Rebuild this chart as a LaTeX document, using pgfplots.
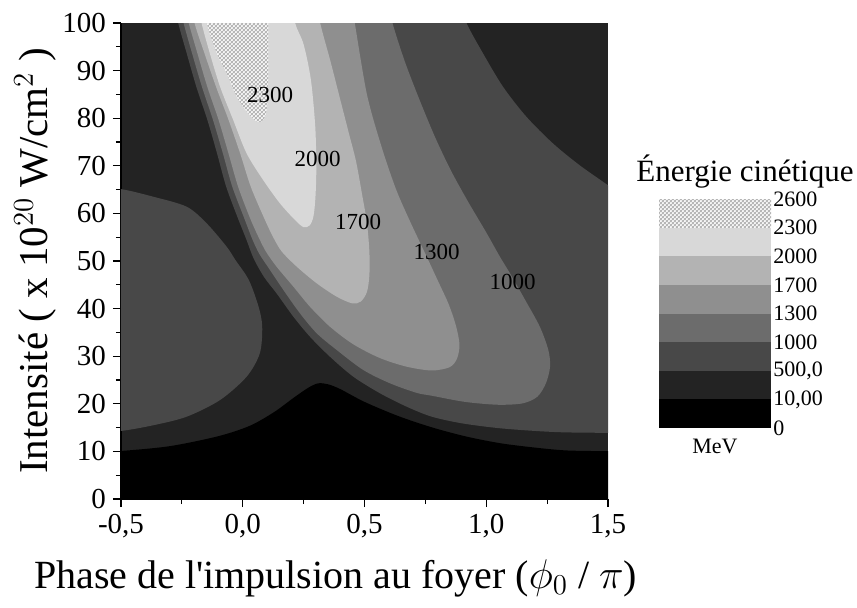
\documentclass[border=0pt]{standalone}
\usepackage{fontspec}
\setmainfont{Liberation Serif}
\usepackage{pgfplots}
\pgfplotsset{compat=1.18}
\usetikzlibrary{patterns.meta}

\definecolor{c0}{RGB}{0,0,0}
\definecolor{c1}{RGB}{35,35,35}
\definecolor{c2}{RGB}{72,72,72}
\definecolor{c3}{RGB}{108,108,108}
\definecolor{c4}{RGB}{143,143,143}
\definecolor{c5}{RGB}{179,179,179}
\definecolor{c6}{RGB}{216,216,216}
\definecolor{hatchgray}{RGB}{180,180,180}

\tikzdeclarepattern{
  name=xhatch, type=uncolored,
  bounding box={(0,0) and (2.2pt,2.2pt)},
  tile size={(2.2pt,2.2pt)},
  code={
    \draw[line width=0.45pt] (0,0) -- (2.2pt,2.2pt);
    \draw[line width=0.45pt] (0,2.2pt) -- (2.2pt,0);
  }
}

\begin{document}
\begin{tikzpicture}
\begin{axis}[
    name=main,
    width=243.5pt, height=238pt, scale only axis,
    xmin=-0.5, xmax=1.5, ymin=0, ymax=100,
    axis background/.style={fill=c1},
    axis x line*=bottom, axis y line*=left,
    axis line style={-, line width=0.6pt},
    tick align=outside,
    major tick length=4pt, minor tick length=2.5pt,
    tick style={line width=0.6pt, black},
    xtick={-0.5,0,0.5,1,1.5},
    xticklabels={{-0,5},{0,0},{0,5},{1,0},{1,5}},
    minor xtick={-0.25,0.25,0.75,1.25},
    ytick={0,10,...,100},
    minor ytick={5,15,...,95},
    /pgf/number format/assume math mode=true,
    ticklabel style={font=\fontsize{14.5}{16}\selectfont},
    xlabel={Phase de l\textquotesingle impulsion au foyer ($\phi_0$ / $\pi$)},
    ylabel={Intensité ( x 10$^{20}$ W/cm$^2$ )},
    xlabel style={font=\fontsize{20}{22}\selectfont, xshift=-14.5pt, yshift=-4pt},
    ylabel style={font=\fontsize{20.5}{22}\selectfont},
    ylabel shift=-4pt,
    every axis plot/.append style={smooth, tension=0.5, draw=none},
]
% 0 - 10 MeV
\addplot[fill=c0] coordinates {
  (-0.6,10.05) (-0.5,10.1) (-0.3,11.1) (-0.1,13.2) (0.03,15.4) (0.13,18.3)
  (0.21,21.3) (0.27,23.4) (0.31,24.3) (0.35,24.1) (0.40,23.1) (0.50,20.4)
  (0.64,17.4) (0.78,15.0) (0.92,13.1) (1.06,11.7) (1.2,10.8) (1.33,10.2)
  (1.5,10.05) (1.6,10.05) (1.6,-5) (-0.6,-5)
} -- cycle;
% 500 - 1000 MeV, left lobe
\addplot[fill=c2] coordinates {
  (-0.6,65.2) (-0.5,65.1) (-0.367,63.5) (-0.23,61.4) (-0.148,57.9) (-0.066,53.0)
  (-0.03,50.2) (0.025,46.0) (0.065,40.4) (0.08,36.2) (0.07,30.6) (0.016,25.7)
  (-0.093,20.8) (-0.23,17.3) (-0.367,15.5) (-0.5,14.3) (-0.6,14.2)
} -- cycle;
% 500 - 1000 MeV, main band
\addplot[fill=c2] coordinates {
  (-0.29,106) (-0.265,100) (-0.23,93.6) (-0.19,86.5) (-0.145,79.6) (-0.105,72.5)
  (-0.068,65.6) (-0.02,59) (0.015,54.5) (0.045,50.5) (0.088,46.6) (0.139,43.2)
  (0.208,38.3) (0.276,34.1) (0.358,29.9) (0.454,25.7) (0.564,22.2) (0.673,19.4)
  (0.776,17.3) (0.9,15.9) (1.049,14.9) (1.2,14.3) (1.323,14.0) (1.5,13.9)
  (1.6,13.9) (1.6,62) (1.5,65.9) (1.384,70.1) (1.274,74.7) (1.165,80.3)
  (1.069,86.6) (0.987,93.6) (0.919,100) (0.88,106)
} -- cycle;
% 1000 - 1300 MeV
\addplot[fill=c3] coordinates {
  (-0.27,106) (-0.243,100) (-0.208,93.6) (-0.167,86.5) (-0.122,79.6) (-0.081,72.5)
  (-0.043,65.6) (0.006,59) (0.04,54.5) (0.068,51.5) (0.112,48.1) (0.167,43.9)
  (0.235,39.0) (0.304,34.8) (0.386,31.3) (0.495,27.1) (0.605,24.3) (0.714,22.3)
  (0.776,21.7) (0.913,20.4) (1.049,19.8) (1.15,20.1) (1.21,21.5) (1.245,24.3)
  (1.262,27.8) (1.255,31.3) (1.22,36.2) (1.16,41.8) (1.10,47.2) (1.055,51)
  (1.0,56) (0.925,62.5) (0.855,69) (0.79,76) (0.725,84) (0.665,92)
  (0.615,100) (0.59,106)
} -- cycle;
% 1300 - 1700 MeV
\addplot[fill=c4] coordinates {
  (-0.25,106) (-0.222,100) (-0.186,93.6) (-0.145,86.5) (-0.099,79.6) (-0.058,72.5)
  (-0.019,65.6) (0.03,59) (0.065,55) (0.095,52) (0.139,48.8) (0.208,44.6)
  (0.276,40.4) (0.358,36.2) (0.454,32.5) (0.564,29.6) (0.673,27.8) (0.776,27.0)
  (0.85,27.7) (0.88,29.5) (0.89,32.5) (0.875,36.5) (0.845,41) (0.80,46)
  (0.75,51.5) (0.69,58) (0.63,65) (0.57,74) (0.51,85) (0.46,100) (0.44,106)
} -- cycle;
% 1700 - 2000 MeV
\addplot[fill=c5] coordinates {
  (-0.22,106) (-0.198,100) (-0.157,93.6) (-0.109,86.5) (-0.058,79.6) (-0.010,72.5)
  (0.033,65.6) (0.088,59) (0.125,55) (0.16,52) (0.222,48.8) (0.304,45.3)
  (0.386,42.5) (0.45,41.1) (0.485,41.5) (0.51,43.5) (0.52,47) (0.52,52)
  (0.51,58) (0.49,64) (0.465,71) (0.435,77) (0.40,84) (0.36,92)
  (0.318,100) (0.30,106)
} -- cycle;
% 2000 - 2300 MeV
\addplot[fill=c6] coordinates {
  (-0.19,106) (-0.169,100) (-0.135,93.6) (-0.093,86.6) (-0.039,79.6) (0.016,72.6)
  (0.084,67.0) (0.153,62.1) (0.215,58.6) (0.25,57.1) (0.275,57.5) (0.29,59.3)
  (0.298,63) (0.302,69) (0.298,78) (0.28,88) (0.25,95.5) (0.215,100) (0.2,106)
} -- cycle;
% 2300 - 2600 MeV
\addplot[fill=white, postaction={pattern={xhatch}, pattern color=hatchgray}] coordinates {
  (-0.16,106) (-0.148,100) (-0.107,93.6) (-0.066,89.4) (-0.025,84.5) (0.016,81.4)
  (0.057,79.3) (0.08,79.4) (0.095,80.8) (0.103,84) (0.105,90) (0.105,100) (0.105,106)
} -- cycle;

\node[font=\fontsize{11.5}{12}\selectfont] at (axis cs:0.112,84.9) {2300};
\node[font=\fontsize{11.5}{12}\selectfont] at (axis cs:0.307,71.4) {2000};
\node[font=\fontsize{11.5}{12}\selectfont] at (axis cs:0.474,58.2) {1700};
\node[font=\fontsize{11.5}{12}\selectfont] at (axis cs:0.796,52.0) {1300};
\node[font=\fontsize{11.5}{12}\selectfont] at (axis cs:1.108,45.5) {1000};
\end{axis}

\begin{axis}[
    at={(269pt,35.5pt)}, anchor=south west,
    width=56pt, height=114.5pt, scale only axis,
    xmin=0, xmax=1, ymin=0, ymax=8,
    clip=false,
    axis line style={draw=none},
    xtick=\empty,
    ytick={0,...,8},
    yticklabels={0,{10,00},{500,0},1000,1300,1700,2000,2300,2600},
    yticklabel pos=right,
    major tick length=0pt,
    yticklabel style={font=\fontsize{11}{12}\selectfont, inner sep=1pt},
    every axis plot/.append style={draw=none},
]
\addplot[fill=c0] coordinates {(0,0) (1,0) (1,1) (0,1)} -- cycle;
\addplot[fill=c1] coordinates {(0,1) (1,1) (1,2) (0,2)} -- cycle;
\addplot[fill=c2] coordinates {(0,2) (1,2) (1,3) (0,3)} -- cycle;
\addplot[fill=c3] coordinates {(0,3) (1,3) (1,4) (0,4)} -- cycle;
\addplot[fill=c4] coordinates {(0,4) (1,4) (1,5) (0,5)} -- cycle;
\addplot[fill=c5] coordinates {(0,5) (1,5) (1,6) (0,6)} -- cycle;
\addplot[fill=c6] coordinates {(0,6) (1,6) (1,7) (0,7)} -- cycle;
\addplot[fill=white, postaction={pattern={xhatch}, pattern color=hatchgray}] coordinates {(0,7) (1,7) (1,8) (0,8)} -- cycle;
\node[font=\fontsize{15.5}{17}\selectfont, anchor=south west, inner sep=0pt]
  at ([xshift=-11.5pt, yshift=5pt]rel axis cs:0,1) {Énergie cinétique};
\node[font=\fontsize{11}{12}\selectfont, anchor=north, inner sep=0pt]
  at ([yshift=-5.5pt]rel axis cs:0.5,0) {MeV};
\end{axis}

\path[use as bounding box] (-60.5pt,-54pt) rectangle (368pt,249.5pt);
\end{tikzpicture}
\end{document}
